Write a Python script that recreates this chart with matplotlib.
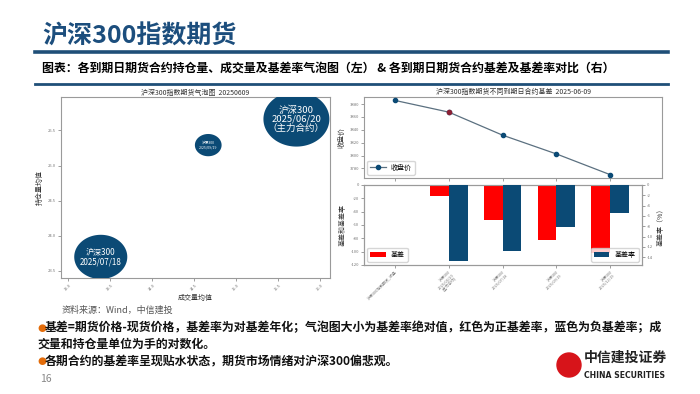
import numpy as np
import matplotlib
matplotlib.use("Agg")
import matplotlib.pyplot as plt
from matplotlib.path import Path
from matplotlib.patches import Ellipse
from matplotlib.lines import Line2D

plt.rcParams['font.family'] = ['Noto Sans CJK SC', 'DejaVu Sans']
plt.rcParams['axes.unicode_minus'] = False

# ---------------- data ----------------
bubble_labels = ["沪深300\n2025/06/20\n（主力合约）", "沪深300\n2025/07/18", "沪深300\n2025/09/19"]
bubble_volume_log = [15.72, 13.39, 14.67]     # 成交量均值 (log)
bubble_oi_log = [25.66, 23.70, 25.29]         # 持仓量均值 (log)
bubble_abs_rate = [14.8, 12.8, 8.1]           # |基差率|
bubble_xticks = [13.0, 13.5, 14.0, 14.5, 15.0, 15.5, 16.0]
bubble_yticks = [23.5, 24.0, 24.5, 25.0, 25.5]

contract_labels = ["沪深300指数期货_收盘", "沪深300\n2025/06/20\n(主力合约)", "沪深300\n2025/07/18",
                   "沪深300\n2025/09/19", "沪深300\n2025/12/19"]
close_price = [3885.7, 3867.5, 3831.6, 3802.4, 3770.1]
basis = [0.0, -16.5, -52.5, -82.5, -101.5]
basis_rate = [np.nan, -14.8, -12.8, -8.1, -5.5]
close_yticks = [3780, 3800, 3820, 3840, 3860, 3880]
basis_yticks = [0, -20, -40, -60, -80, -100, -120]
rate_yticks = [0, -2, -4, -6, -8, -10, -12, -14]

W, H = 700, 394
fig = plt.figure(figsize=(7.0, 3.94), dpi=100)
fig.patch.set_facecolor('white')

def fx(px):
    return px / W

def fy(py):
    return 1 - py / H

navy = '#0b4a75'
title_blue = '#1c4e7d'

# ---------------- slide header ----------------
fig.text(fx(42), fy(37), "沪深300指数期货", fontsize=18, fontweight='bold', color=title_blue,
         ha='left', va='center')
fig.add_artist(Line2D([fx(35), fx(668)], [fy(52), fy(52)], color='#1f4f78', lw=2.6))
fig.add_artist(Line2D([fx(35), fx(668)], [fy(83.5), fy(83.5)], color='#1f4f78', lw=2.0))
fig.text(fx(42), fy(68), "图表：各到期日期货合约持仓量、成交量及基差率气泡图（左） & 各到期日期货合约基差及基差率对比（右）",
         fontsize=8.6, fontweight='bold', color='black', ha='left', va='center')

# ---------------- bubble chart (left) ----------------
ax1 = fig.add_axes([fx(60.7), fy(278), fx(330 - 60.7), (278 - 97.3) / H])
theta = np.linspace(0, 2 * np.pi, 120)
ell_path = Path(np.column_stack([1.2 * np.cos(theta), np.sin(theta)]), closed=True)
sizes = 0.696 * np.array(bubble_abs_rate) ** 3
ax1.scatter(bubble_volume_log, bubble_oi_log, s=sizes, marker=ell_path, color=navy,
            edgecolors='none', zorder=3)
txt_sizes = [6.8, 5.8, 2.6]
for x, y, lab, fs in zip(bubble_volume_log, bubble_oi_log, bubble_labels, txt_sizes):
    ax1.text(x, y, lab, ha='center', va='center', color='white', fontsize=fs,
             linespacing=1.05, zorder=4)
ax1.set_xlim(12.913, 16.12)
ax1.set_ylim(23.40, 25.97)
ax1.set_xticks(bubble_xticks)
ax1.set_yticks(bubble_yticks)
ax1.set_xticklabels([f"{v:.1f}" for v in bubble_xticks], rotation=45, fontsize=3, color='#555555')
ax1.set_yticklabels([f"{v:.1f}" for v in bubble_yticks], fontsize=3, color='#555555')
ax1.tick_params(length=2, width=0.5, pad=1.5, colors='#777777')
for sp in ax1.spines.values():
    sp.set_color('#9a9a9a')
    sp.set_linewidth(0.8)
ax1.set_title("沪深300指数期货气泡图  20250609", fontsize=5, pad=2, color='#333333')
ax1.set_xlabel("成交量均值", fontsize=5, labelpad=2, color='#333333')
ax1.set_ylabel("持仓量均值", fontsize=5, labelpad=3, color='#333333')

# ---------------- close price line (right top) ----------------
xi = np.arange(len(contract_labels))
ax2 = fig.add_axes([fx(364), fy(178), fx(662 - 364), (178 - 97) / H])
ax2.plot(xi, close_price, color='#5b7080', lw=0.9, marker='o', markersize=3,
         markerfacecolor=navy, markeredgecolor=navy, label='收盘价', zorder=3)
ax2.plot(xi[1], close_price[1], marker='o', markersize=3, color='#8a2035', zorder=4)
ax2.set_xlim(-0.574, 4.96)
ax2.set_ylim(3765, 3891)
ax2.set_yticks(close_yticks)
ax2.set_yticklabels([str(v) for v in close_yticks], fontsize=3, color='#555555')
ax2.set_xticks(xi)
ax2.set_xticklabels([])
ax2.tick_params(length=2, width=0.5, pad=1.5, colors='#777777')
for sp in ax2.spines.values():
    sp.set_color('#9a9a9a')
    sp.set_linewidth(0.8)
ax2.set_title("沪深300指数期货不同到期日合约基差  2025-06-09", fontsize=5, pad=2, color='#333333')
ax2.set_ylabel("收盘价", fontsize=5, labelpad=3, color='#333333')
ax2.legend(loc='lower left', fontsize=5, frameon=True, handlelength=2.2, borderpad=0.4)

# ---------------- basis bars (right bottom) ----------------
ax3 = fig.add_axes([fx(364), fy(265), fx(642 - 364), (265 - 185) / H])
bw = 0.35
ax3.bar(xi - bw / 2, basis, width=bw, color='#ff0000', label='基差', zorder=3)
ax3.set_xlim(-0.574, 4.59)
ax3.set_ylim(-120, 0)
ax3.set_yticks(basis_yticks)
ax3.set_yticklabels([str(v) for v in basis_yticks], fontsize=3, color='#555555')
ax3.set_xticks(xi)
ax3.set_xticklabels(contract_labels, rotation=45, ha='right', rotation_mode='anchor',
                    fontsize=2.8, color='#555555', linespacing=1.1)
ax3.tick_params(length=2, width=0.5, pad=1.5, colors='#777777')
ax3.set_ylabel("基差和基差率", fontsize=5, labelpad=3, color='#333333')
ax3.legend(loc='lower left', fontsize=5, handlelength=2.2, borderpad=0.4)

ax4 = ax3.twinx()
ax4.bar(xi + bw / 2, basis_rate, width=bw, color=navy, label='基差率', zorder=3)
ax4.set_ylim(-15.5, 0)
ax4.set_yticks(rate_yticks)
ax4.set_yticklabels([str(v) for v in rate_yticks], fontsize=3, color='#555555')
ax4.tick_params(length=2, width=0.5, pad=1.5, colors='#777777')
ax4.set_ylabel("基差率（%）", fontsize=5, labelpad=3, color='#333333')
ax4.legend(loc='lower right', fontsize=5, handlelength=2.2, borderpad=0.4)
for a in (ax3, ax4):
    for sp in a.spines.values():
        sp.set_color('#9a9a9a')
        sp.set_linewidth(0.8)

# ---------------- footer text ----------------
fig.text(fx(62), fy(310), "资料来源：Wind，中信建投", fontsize=6.5, style='italic', color='#555555',
         ha='left', va='center')
orange = '#e36c0a'
lines = [
    (328, "基差=期货价格-现货价格，基差率为对基差年化；气泡图大小为基差率绝对值，红色为正基差率，蓝色为负基差率；成", True),
    (344, "交量和持仓量单位为手的对数化。", False),
    (361, "各期合约的基差率呈现贴水状态，期货市场情绪对沪深300偏悲观。", True),
]
for y, t, bullet in lines:
    if bullet:
        fig.text(fx(37), fy(y), "●", fontsize=7.5, color=orange, ha='left', va='center',
                 family=['DejaVu Sans'])
    fig.text(fx(45) if bullet else fx(37), fy(y), t, fontsize=8.6, fontweight='bold',
             color='#111111', ha='left', va='center')
fig.text(fx(40), fy(379), "16", fontsize=7.5, color='#888888', ha='left', va='center')

# logo
fig.add_artist(Ellipse((fx(569), fy(365)), 24 / W, 24 / H, color='#d7141a'))
fig.text(fx(584), fy(358), "中信建投证券", fontsize=10, fontweight='bold', color='#222222',
         ha='left', va='center')
fig.text(fx(584), fy(375), "CHINA SECURITIES", fontsize=5.6, fontweight='bold', color='#222222',
         ha='left', va='center', family=['DejaVu Sans'])

fig.savefig("out.png", dpi=100)
